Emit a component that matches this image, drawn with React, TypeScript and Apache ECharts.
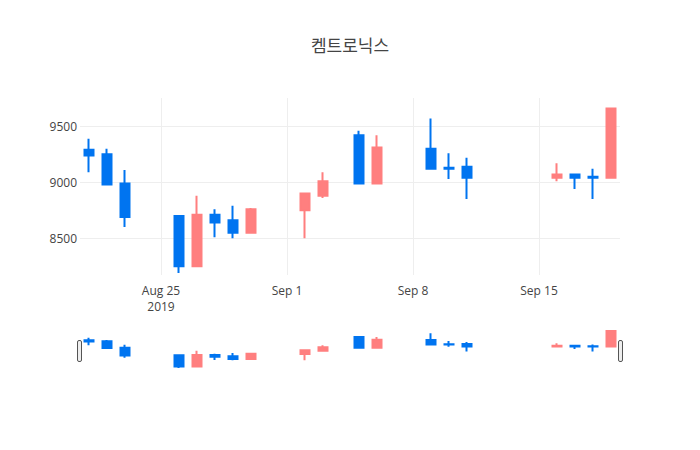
import React, { useEffect, useRef } from 'react';
import * as echarts from 'echarts';

// every calendar day on the axis (weekends / holidays left empty)
const days = [
  '2019-08-21', '2019-08-22', '2019-08-23', '2019-08-24', '2019-08-25', '2019-08-26',
  '2019-08-27', '2019-08-28', '2019-08-29', '2019-08-30', '2019-08-31', '2019-09-01',
  '2019-09-02', '2019-09-03', '2019-09-04', '2019-09-05', '2019-09-06', '2019-09-07',
  '2019-09-08', '2019-09-09', '2019-09-10', '2019-09-11', '2019-09-12', '2019-09-13',
  '2019-09-14', '2019-09-15', '2019-09-16', '2019-09-17', '2019-09-18', '2019-09-19'
];

const tradeDates = [
  '2019-08-21', '2019-08-22', '2019-08-23', '2019-08-26', '2019-08-27', '2019-08-28',
  '2019-08-29', '2019-08-30', '2019-09-02', '2019-09-03', '2019-09-05', '2019-09-06',
  '2019-09-09', '2019-09-10', '2019-09-11', '2019-09-16', '2019-09-17', '2019-09-18',
  '2019-09-19'
];
const opens = [9290, 9250, 8990, 8700, 8250, 8710, 8660, 8550, 8750, 8880, 9420, 8990, 9300, 9130, 9140, 9040, 9070, 9050, 9040];
const closes = [9240, 8980, 8690, 8250, 8710, 8640, 8550, 8760, 8900, 9010, 8990, 9310, 9120, 9120, 9040, 9070, 9040, 9040, 9660];
const lows = [9090, 8980, 8600, 8190, 8250, 8510, 8500, 8550, 8500, 8860, 8990, 8990, 9120, 9030, 8850, 9010, 8940, 8850, 9040];
const highs = [9390, 9300, 9110, 8700, 8880, 8760, 8790, 8770, 8900, 9090, 9460, 9420, 9570, 9260, 9220, 9170, 9070, 9120, 9660];

const xTicks = [
  ['2019-08-25', 'Aug 25\n2019'],
  ['2019-09-01', 'Sep 1'],
  ['2019-09-08', 'Sep 8'],
  ['2019-09-15', 'Sep 15']
];

const UP = '#FF7F7F';
const DOWN = '#0074F0';
const FONT = '"Open Sans", "Noto Sans CJK KR", verdana, arial, sans-serif';

export default function App() {
  const chartRef = useRef<HTMLDivElement>(null);

  useEffect(() => {
    const chart = echarts.init(chartRef.current, null, { renderer: 'svg' });

    const candles = days.map(d => {
      const i = tradeDates.indexOf(d);
      return i < 0 ? '-' : [opens[i], closes[i], lows[i], highs[i]];
    });
    const tickMap: Record<string, string> = {};
    xTicks.forEach(([d, l]) => { tickMap[d] = l; });

    const candleStyle = {
      color: UP,
      color0: DOWN,
      borderColor: UP,
      borderColor0: DOWN,
      borderWidth: 2
    };

    chart.setOption({
      animation: false,
      backgroundColor: '#fff',
      textStyle: { fontFamily: FONT },
      title: {
        text: '켐트로닉스',
        left: 'center',
        top: 32,
        textStyle: { fontFamily: FONT, fontSize: 17, fontWeight: 'normal', color: '#444' }
      },
      grid: [
        { left: 80, right: 80, top: 98, height: 177 },
        { left: 80, right: 80, top: 331, height: 37 }
      ],
      xAxis: [
        {
          type: 'category',
          data: days,
          boundaryGap: true,
          axisLine: { show: false },
          axisTick: { show: false },
          splitLine: { show: false },
          axisLabel: {
            interval: (idx: number, v: string) => tickMap[v] !== undefined,
            formatter: (v: string) => tickMap[v] ?? '',
            color: '#444',
            fontSize: 12,
            lineHeight: 15.5,
            margin: 8,
            fontFamily: FONT
          }
        },
        {
          type: 'category',
          gridIndex: 1,
          data: days,
          boundaryGap: true,
          show: false
        }
      ],
      yAxis: [
        {
          type: 'value',
          min: 8172,
          max: 9753,
          splitNumber: 3,
          axisLine: { show: false },
          axisTick: { show: false },
          axisLabel: {
            color: '#444',
            fontSize: 12,
            margin: 3,
            showMinLabel: false,
            showMaxLabel: false,
            fontFamily: FONT,
            formatter: (v: number) => String(v)
          },
          splitLine: { lineStyle: { color: '#eee', width: 1 }, showMinLine: false, showMaxLine: false }
        },
        {
          type: 'value',
          gridIndex: 1,
          min: 8190,
          max: 9660,
          show: false
        }
      ],
      series: [
        {
          type: 'candlestick',
          data: candles,
          barWidth: 9,
          itemStyle: candleStyle,
          markLine: {
            silent: true,
            symbol: 'none',
            label: { show: false },
            lineStyle: { color: '#eee', width: 1, type: 'solid' },
            data: xTicks.map(([d]) => ({ xAxis: d }))
          }
        },
        {
          type: 'candlestick',
          xAxisIndex: 1,
          yAxisIndex: 1,
          data: candles,
          barWidth: 9,
          itemStyle: candleStyle,
          silent: true
        }
      ],
      graphic: [
        { type: 'rect', left: 77, top: 340, shape: { width: 4, height: 21, r: 1.5 }, style: { fill: '#eee', stroke: '#555', lineWidth: 1 } },
        { type: 'rect', left: 618, top: 340, shape: { width: 4, height: 21, r: 1.5 }, style: { fill: '#eee', stroke: '#555', lineWidth: 1 } }
      ]
    });

    return () => chart.dispose();
  }, []);

  return <div ref={chartRef} style={{ position: 'fixed', left: 0, top: 0, width: 700, height: 450 }} />;
}
